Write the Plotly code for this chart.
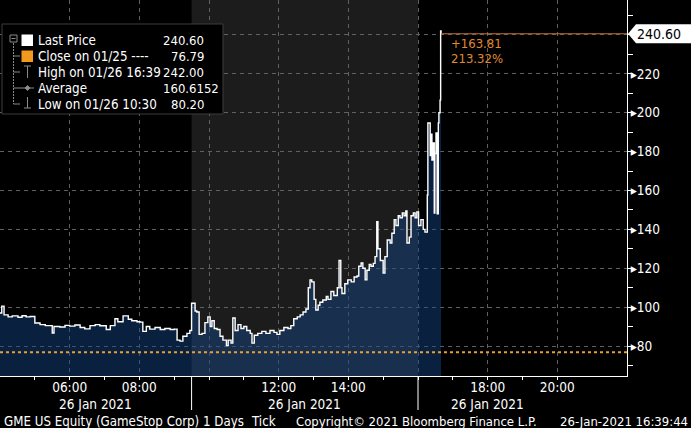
import plotly.graph_objects as go

DAY = "2021-01-26 "

times = [
    "04:00", "04:03", "04:07", "04:14", "04:21", "04:31", "04:38", "04:45", "04:52", "05:00",
    "05:09", "05:18", "05:30", "05:33", "05:43", "05:52", "06:00", "06:09", "06:18", "06:26",
    "06:35", "06:44", "06:52", "07:03", "07:10", "07:18", "07:23", "07:32", "07:41", "07:47",
    "07:56", "08:01", "08:06", "08:12", "08:18", "08:27", "08:36", "08:44", "08:53", "09:00",
    "09:05", "09:10", "09:15", "09:22", "09:27", "09:30", "09:36", "09:39", "09:43", "09:48",
    "09:53", "09:58", "10:02", "10:05", "10:09", "10:14", "10:19", "10:24", "10:30", "10:33",
    "10:38", "10:41", "10:45", "10:50", "10:55", "11:00", "11:05", "11:11", "11:14", "11:18",
    "11:24", "11:31", "11:38", "11:45", "11:52", "11:57", "12:02", "12:09", "12:16", "12:21",
    "12:26", "12:32", "12:37", "12:42", "12:47", "12:51", "12:54", "12:57", "13:01", "13:04",
    "13:08", "13:11", "13:16", "13:22", "13:25", "13:30", "13:35", "13:41", "13:44", "13:47",
    "13:49", "13:54", "13:59", "14:05", "14:10", "14:15", "14:18", "14:22", "14:25", "14:29",
    "14:32", "14:36", "14:39", "14:43", "14:46", "14:49", "14:51", "14:55", "15:00", "15:03",
    "15:07", "15:12", "15:15", "15:19", "15:22", "15:26", "15:29", "15:33", "15:36", "15:39",
    "15:41", "15:45", "15:48", "15:52", "15:55", "15:58", "16:01", "16:05", "16:09", "16:12",
    "16:16", "16:17", "16:21", "16:22", "16:24", "16:26", "16:28", "16:29", "16:31", "16:33",
    "16:35", "16:36", "16:38", "16:39:00", "16:39:44",
]
prices = [
    97.0, 100.5, 96.0, 95.0, 95.5, 94.8, 95.6, 95.0, 95.2, 91.8,
    91.0, 90.5, 86.7, 90.0, 89.8, 90.6, 90.2, 90.8, 89.5, 88.8,
    90.5, 91.0, 90.4, 88.5, 90.5, 94.0, 92.5, 95.5, 93.8, 93.0,
    92.5, 92.3, 87.5, 90.0, 88.7, 89.5, 88.5, 89.0, 88.5, 88.7,
    83.0, 82.5, 85.0, 86.5, 88.0, 102.0, 98.0, 97.5, 86.0, 86.5,
    92.0, 95.0, 90.0, 93.0, 89.0, 88.5, 85.0, 83.0, 80.2, 83.0,
    81.5, 94.4, 88.0, 91.0, 89.0, 90.0, 88.0, 86.5, 81.5, 85.5,
    86.5, 87.5, 86.5, 88.0, 87.0, 86.0, 88.0, 89.5, 89.0, 90.5,
    94.0, 95.0, 96.0, 97.5, 99.0, 110.0, 114.0, 113.0, 104.0, 98.5,
    101.0, 102.5, 103.7, 105.5, 104.0, 108.0, 106.0, 110.0, 124.0, 110.0,
    107.0, 112.0, 114.0, 113.0, 115.5, 116.0, 121.0, 122.7, 120.0, 114.0,
    119.0, 122.0, 121.0, 122.5, 126.0, 144.0, 130.0, 124.0, 117.5, 126.0,
    134.5, 133.0, 138.0, 145.0, 142.0, 147.0, 146.0, 148.5, 147.0, 149.5,
    133.0, 136.0, 147.0, 148.5, 146.0, 149.0, 142.0, 145.0, 140.0, 138.6,
    157.7, 194.7, 178.0, 189.0, 175.7, 184.4, 148.4, 179.0, 189.6, 148.0,
    194.7, 200.0, 206.5, 242.0, 240.6,
]

close_prev = 76.79
last_price = 240.60
high_price = 242.00
high_time = "16:39"
low_price = 80.20
low_time = "10:30"
average_price = 160.6152
change_abs = 163.81
change_pct = 213.32

y_ticks = [80, 100, 120, 140, 160, 180, 200, 220, 240]
y_tick_text = ["80", "100", "120", "140", "160", "180", "200", "220", ""]  # 240 hidden under the last-price tag
x_major = ["06:00", "08:00", "10:00", "12:00", "14:00", "16:00", "18:00", "20:00"]
x_major_text = ["06:00", "08:00", "", "12:00", "14:00", "", "18:00", "20:00"]
x_minor = ["05:00", "07:00", "09:00", "11:00", "13:00", "15:00", "17:00", "19:00"]
session_bounds = ["09:30", "16:00"]
session_centers = ["06:45", "12:45", "18:00"]
session_label = "26 Jan 2021"

FONT = "DejaVu Sans Condensed, DejaVu Sans, sans-serif"
W, H = 691, 428
PL, PR, PT, PB = 0, 627, 0, 376  # plot area in pixels
Y_RANGE = [64.57, 257.98]


def px(x):
    return (x - PL) / (PR - PL)


def py(y):
    return (PB - y) / (PB - PT)


fig = go.Figure()
fig.add_trace(go.Scatter(
    x=[DAY + t for t in times], y=prices, mode="lines",
    line=dict(color="white", width=1.4, shape="hv"),
    fill="tozeroy", fillcolor="rgba(20,70,140,0.45)",
    hoverinfo="skip", showlegend=False,
))

shapes = []
# regular session shading
shapes.append(dict(type="rect", xref="x", yref="paper", x0=DAY + session_bounds[0], x1=DAY + session_bounds[1],
                   y0=0, y1=1, fillcolor="#1c1c1c", line=dict(width=0), layer="below"))
# session boundary lines extending below axis
for b in session_bounds:
    shapes.append(dict(type="line", xref="x", yref="paper", x0=DAY + b, x1=DAY + b,
                       y0=0, y1=py(410), line=dict(color="white", width=1)))
# previous close dotted line
shapes.append(dict(type="line", xref="paper", yref="y", x0=0, x1=1, y0=close_prev, y1=close_prev,
                   line=dict(color="#e8a030", width=2, dash="dot")))
# last price line
shapes.append(dict(type="line", xref="x", yref="y", x0=DAY + times[-1], x1=DAY + "22:00",
                   y0=last_price, y1=last_price, line=dict(color="#c8773a", width=1)))

# legend box
shapes.append(dict(type="rect", xref="paper", yref="paper", x0=px(2), x1=px(223), y0=py(114), y1=py(24),
                   fillcolor="black", line=dict(color="#3c3c3c", width=1), layer="above"))
gray = "#8a8a8a"
# tree box with minus
shapes.append(dict(type="rect", xref="paper", yref="paper", x0=px(10), x1=px(17), y0=py(42), y1=py(35),
                   line=dict(color=gray, width=1), fillcolor="black"))
shapes.append(dict(type="line", xref="paper", yref="paper", x0=px(11.5), x1=px(15.5), y0=py(38.5), y1=py(38.5),
                   line=dict(color=gray, width=1)))
shapes.append(dict(type="line", xref="paper", yref="paper", x0=px(13.5), x1=px(13.5), y0=py(43), y1=py(104),
                   line=dict(color=gray, width=1, dash="2px,1px")))
for ry in [56, 72, 88, 104]:
    shapes.append(dict(type="line", xref="paper", yref="paper", x0=px(13.5), x1=px(20), y0=py(ry), y1=py(ry),
                       line=dict(color=gray, width=1)))
# last price square
shapes.append(dict(type="rect", xref="paper", yref="paper", x0=px(21.5), x1=px(33), y0=py(46), y1=py(34.5),
                   fillcolor="white", line=dict(width=0)))
# close square
shapes.append(dict(type="rect", xref="paper", yref="paper", x0=px(21.5), x1=px(33), y0=py(62), y1=py(50.5),
                   fillcolor="#f39a1e", line=dict(width=0)))
# high icon (T)
shapes.append(dict(type="line", xref="paper", yref="paper", x0=px(24), x1=px(31), y0=py(66), y1=py(66),
                   line=dict(color=gray, width=1)))
shapes.append(dict(type="line", xref="paper", yref="paper", x0=px(27.5), x1=px(27.5), y0=py(66), y1=py(78),
                   line=dict(color=gray, width=1)))
# average icon
shapes.append(dict(type="line", xref="paper", yref="paper", x0=px(20), x1=px(34), y0=py(88), y1=py(88),
                   line=dict(color=gray, width=1)))
shapes.append(dict(type="path", xref="paper", yref="paper",
                   path=f"M {px(27.5)},{py(85.5)} L {px(30)},{py(88)} L {px(27.5)},{py(90.5)} L {px(25)},{py(88)} Z",
                   fillcolor=gray, line=dict(color=gray, width=1)))
# low icon (inverted T)
shapes.append(dict(type="line", xref="paper", yref="paper", x0=px(27.5), x1=px(27.5), y0=py(97), y1=py(108),
                   line=dict(color=gray, width=1)))
shapes.append(dict(type="line", xref="paper", yref="paper", x0=px(24), x1=px(31), y0=py(108), y1=py(108),
                   line=dict(color=gray, width=1)))
# last price tag on the axis
ty = (last_price - Y_RANGE[0]) / (Y_RANGE[1] - Y_RANGE[0])
th = 9.5 / (PB - PT)
shapes.append(dict(type="path", xref="paper", yref="paper",
                   path=(f"M {px(628)},{ty} L {px(636)},{ty + th} L {px(691)},{ty + th} "
                         f"L {px(691)},{ty - th} L {px(636)},{ty - th} Z"),
                   fillcolor="white", line=dict(width=0)))

annotations = []


def ann(x, y, text, color="white", anchor="left", size=13.0):
    annotations.append(dict(xref="paper", yref="paper", x=px(x), y=py(y), text=text, showarrow=False,
                            xanchor=anchor, yanchor="middle", font=dict(color=color, size=size, family=FONT)))


rows = [
    ("Last Price", f"{last_price:.2f}", 206),
    ("Close on 01/25 ----", f"{close_prev:.2f}", 206),
    (f"High on 01/26 {high_time}", f"{high_price:.2f}", 206),
    ("Average", f"{average_price:.4f}", 221),
    (f"Low on 01/26 {low_time}", f"{low_price:.2f}", 206),
]
for i, (label, val, vx) in enumerate(rows):
    ry = 40.5 + 16 * i
    ann(36, ry, label, size=13.3)
    ann(vx, ry, val, anchor="right", size=13)

ann(449, 43, f"+{change_abs:.2f}", color="#e08a30", size=13)
ann(449, 58, f"{change_pct:.2f}%", color="#e08a30", size=13)
ann(635, 34, f"{last_price:.2f}", color="black", size=14)

# session date labels
for c in session_centers:
    annotations.append(dict(xref="x", yref="paper", x=DAY + c, y=py(404), text=session_label, showarrow=False,
                            xanchor="center", yanchor="middle", font=dict(color="white", size=13.5, family=FONT)))

# footer
ann(2, 421, "GME US Equity (GameStop Corp) 1 Days", size=13.2)
ann(249, 421, "Tick", size=13.2)
ann(294, 421, "Copyright© 2021 Bloomberg Finance L.P.", size=13)
ann(690, 421, "26-Jan-2021 16:39:44", anchor="right", size=13)

fig.update_layout(
    width=W, height=H, autosize=False,
    margin=dict(l=PL, r=W - PR, t=PT, b=H - PB),
    paper_bgcolor="black", plot_bgcolor="black",
    font=dict(family=FONT, color="white", size=13),
    showlegend=False,
    shapes=shapes, annotations=annotations,
    xaxis=dict(
        type="date", range=[DAY + "04:00", DAY + "22:00"],
        tickmode="array", tickvals=[DAY + t for t in x_major], ticktext=x_major_text,
        ticks="outside", ticklen=3, tickcolor="white", tickwidth=1, ticklabelstandoff=-4,
        showline=True, linecolor="white", linewidth=1,
        showgrid=True, gridcolor="#606060", griddash="4px,4px", gridwidth=1,
        zeroline=False, tickfont=dict(color="white", size=13.5, family=FONT),
        minor=dict(tickmode="array", tickvals=[DAY + t for t in x_minor], ticks="outside", ticklen=3,
                   tickcolor="white", showgrid=False),
    ),
    yaxis=dict(
        side="right", range=Y_RANGE,
        tickmode="array", tickvals=y_ticks,
        ticktext=[("\u25B8" + t) if t else "" for t in y_tick_text],
        ticks="", showline=True, linecolor="white", linewidth=1,
        showgrid=True, gridcolor="#606060", griddash="4px,4px", gridwidth=1,
        zeroline=False, tickfont=dict(color="white", size=13.5, family=FONT),
        minor=dict(dtick=10, tick0=0, ticks="outside", ticklen=5, tickcolor="white", showgrid=False),
    ),
)

fig.write_html(
    "out.html",
    config={"displayModeBar": False},
    post_script="document.body.style.margin='0';document.body.style.overflow='hidden';document.body.style.background='black';",
)
